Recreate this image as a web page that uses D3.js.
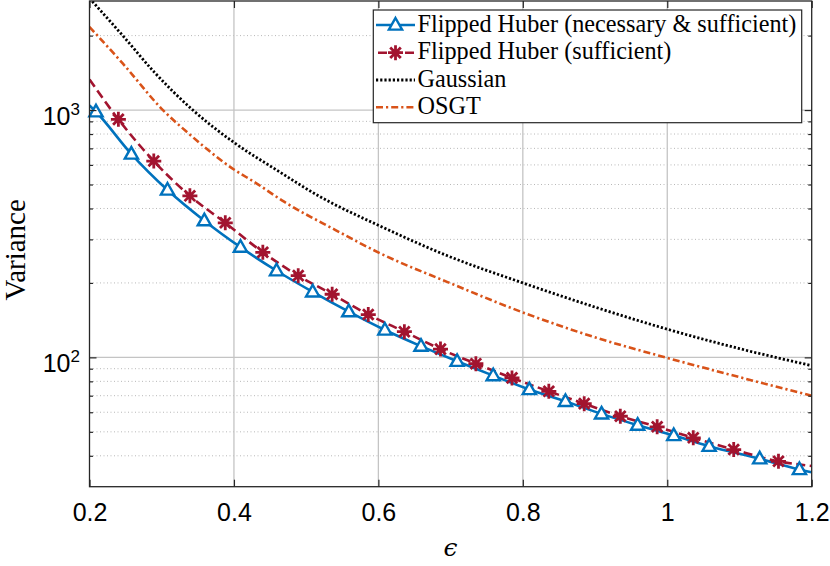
<!DOCTYPE html>
<html><head><meta charset="utf-8">
<script src="https://cdn.jsdelivr.net/npm/d3@7"></script>
<style>body{margin:0;background:#fff;} svg{display:block}</style>
</head><body>
<svg id="chart" width="830" height="566"></svg>
<script>
// ---------- data ----------
const xTicks = [0.2, 0.4, 0.6, 0.8, 1.0, 1.2];
const xTickLabels = ["0.2", "0.4", "0.6", "0.8", "1", "1.2"];
const yMajorTicks = [100, 1000];
const yMajorExp = ["2", "3"];
const yMinorTicks = [40, 50, 60, 70, 80, 90, 200, 300, 400, 500, 600, 700, 800, 900, 2000];
const seriesNames = ["Flipped Huber (necessary & sufficient)", "Flipped Huber (sufficient)", "Gaussian", "OSGT"];

// Flipped Huber (necessary & sufficient): line points (first/last are line ends, the rest carry markers)
const blueEps = [0.2, 0.209, 0.258, 0.308, 0.359, 0.409, 0.459, 0.509, 0.559, 0.609, 0.659, 0.709, 0.759, 0.809, 0.859, 0.909, 0.959, 1.009, 1.058, 1.128, 1.183, 1.2];
const blueVar = [1045, 984, 664, 475, 357, 279, 224, 184, 153, 129, 111, 96.4, 84.4, 74.1, 66.4, 59.1, 53.2, 48.3, 43.7, 38.9, 35.2, 34.3];
// Flipped Huber (sufficient)
const redEps = [0.2, 0.24, 0.289, 0.339, 0.388, 0.440, 0.489, 0.536, 0.586, 0.636, 0.686, 0.735, 0.785, 0.836, 0.885, 0.935, 0.986, 1.036, 1.092, 1.154, 1.2];
const redVar = [1330, 917, 622, 450, 350, 266, 214, 180, 149, 127, 108, 94.3, 82.6, 72.9, 65.0, 57.8, 52.4, 47.3, 42.4, 38.0, 36.4];
// Gaussian
const gaussEps = [0.2, 0.246, 0.29, 0.343, 0.401, 0.46, 0.517, 0.603, 0.695, 0.80, 0.902, 1.0, 1.1, 1.2];
const gaussVar = [2830, 2000, 1420, 1000, 736, 570, 450, 339, 258, 200, 159, 130, 108.5, 92.6];
// OSGT
const osgtEps = [0.2, 0.246, 0.3017, 0.3364, 0.40, 0.43, 0.47, 0.54, 0.603, 0.695, 0.80, 0.902, 1.0, 1.1, 1.2];
const osgtVar = [2169, 1543, 1000, 808, 575, 508, 425, 328, 263, 202, 152, 120, 99.5, 83.2, 70];

// ---------- layout ----------
const L = 89.5, R = 811.7, T = 1, B = 486.7;
const axisColor = "#262626";
const svg = d3.select("#chart");
const x = d3.scaleLinear().domain([0.2, 1.2]).range([L, R]);
const y = d3.scaleLog().domain([30, 2760]).range([B, T]);

svg.append("defs").append("clipPath").attr("id", "clip")
  .append("rect").attr("x", L).attr("y", T).attr("width", R - L).attr("height", B - T);

// ---------- grid ----------
const grid = svg.append("g");
grid.selectAll(".gminor").data(yMinorTicks).join("line")
  .attr("x1", L).attr("x2", R).attr("y1", d => y(d)).attr("y2", d => y(d))
  .attr("stroke", "#b8b8b8").attr("stroke-width", 1).attr("stroke-dasharray", "1,2.5");
grid.selectAll(".gmajy").data(yMajorTicks).join("line")
  .attr("x1", L).attr("x2", R).attr("y1", d => y(d)).attr("y2", d => y(d))
  .attr("stroke", "#c4c4c4").attr("stroke-width", 1.3);
grid.selectAll(".gmajx").data(xTicks.slice(1, -1)).join("line")
  .attr("y1", T).attr("y2", B).attr("x1", d => x(d)).attr("x2", d => x(d))
  .attr("stroke", "#c4c4c4").attr("stroke-width", 1.3);

// ---------- series ----------
const plot = svg.append("g").attr("clip-path", "url(#clip)");
const lineGen = (xs, ys) => d3.line().curve(d3.curveMonotoneX)
  .x(i => x(xs[i])).y(i => y(ys[i]))(d3.range(xs.length));

plot.append("path").attr("d", lineGen(blueEps, blueVar))
  .attr("fill", "none").attr("stroke", "#0072BD").attr("stroke-width", 2.6);
plot.append("path").attr("d", lineGen(redEps, redVar))
  .attr("fill", "none").attr("stroke", "#A2142F").attr("stroke-width", 2.6).attr("stroke-dasharray", "9,4.5");
plot.append("path").attr("d", lineGen(gaussEps, gaussVar))
  .attr("fill", "none").attr("stroke", "#000").attr("stroke-width", 2.8).attr("stroke-dasharray", "2.2,2");
plot.append("path").attr("d", lineGen(osgtEps, osgtVar))
  .attr("fill", "none").attr("stroke", "#D95319").attr("stroke-width", 2.6).attr("stroke-dasharray", "7,3,2.2,3");

const triPath = "M0,-7L6.6,4.6L-6.6,4.6Z";
const starPath = "M-7.5,0H7.5M0,-7.5V7.5M-5.3,-5.3L5.3,5.3M-5.3,5.3L5.3,-5.3";
const blueIdx = d3.range(1, blueEps.length - 1);
const redIdx = d3.range(1, redEps.length - 1);
svg.append("g").selectAll("path").data(blueIdx).join("path")
  .attr("transform", i => `translate(${x(blueEps[i])},${y(blueVar[i])})`)
  .attr("d", triPath).attr("fill", "#fff").attr("stroke", "#0072BD").attr("stroke-width", 2.4);
svg.append("g").selectAll("path").data(redIdx).join("path")
  .attr("transform", i => `translate(${x(redEps[i])},${y(redVar[i])})`)
  .attr("d", starPath).attr("fill", "none").attr("stroke", "#A2142F").attr("stroke-width", 2.8);

// ---------- axes ----------
function styleAxis(g) {
  g.select(".domain").remove();
  g.selectAll(".tick line").attr("stroke", axisColor).attr("stroke-width", 1.2);
}
svg.append("g").attr("transform", `translate(0,${B})`)
  .call(d3.axisBottom(x).tickValues(xTicks).tickSizeInner(-7).tickSizeOuter(0).tickPadding(17)
    .tickFormat((d, i) => xTickLabels[i]))
  .call(styleAxis)
  .call(g => g.selectAll("text").attr("font-family", "Liberation Sans, Arial, sans-serif")
    .attr("font-size", 25).attr("fill", "#000"));
svg.append("g").attr("transform", `translate(0,${T})`)
  .call(d3.axisTop(x).tickValues(xTicks).tickSizeInner(-7).tickSizeOuter(0).tickFormat(""))
  .call(styleAxis);
svg.append("g").attr("transform", `translate(${L},0)`)
  .call(d3.axisLeft(y).tickValues(yMajorTicks).tickSizeInner(-7).tickSizeOuter(0).tickFormat(""))
  .call(styleAxis);
svg.append("g").attr("transform", `translate(${L},0)`)
  .call(d3.axisLeft(y).tickValues(yMinorTicks).tickSizeInner(-3.5).tickSizeOuter(0).tickFormat(""))
  .call(styleAxis);
svg.append("g").attr("transform", `translate(${R},0)`)
  .call(d3.axisRight(y).tickValues(yMajorTicks).tickSizeInner(-7).tickSizeOuter(0).tickFormat(""))
  .call(styleAxis);
svg.append("g").attr("transform", `translate(${R},0)`)
  .call(d3.axisRight(y).tickValues(yMinorTicks).tickSizeInner(-3.5).tickSizeOuter(0).tickFormat(""))
  .call(styleAxis);

// y tick labels 10^n
const ylab = svg.append("g").attr("font-family", "Liberation Sans, Arial, sans-serif").attr("fill", "#000");
yMajorTicks.forEach((v, i) => {
  const t = ylab.append("text").attr("x", 80).attr("y", y(v) + 15).attr("text-anchor", "end").attr("font-size", 25);
  t.append("tspan").text("10");
  t.append("tspan").attr("dy", -10).attr("font-size", 17).text(yMajorExp[i]);
});

// frame
svg.append("rect").attr("x", L).attr("y", T).attr("width", R - L).attr("height", B - T)
  .attr("fill", "none").attr("stroke", axisColor).attr("stroke-width", 1.3);

// axis titles
svg.append("text").attr("transform", `translate(25,${(T + B) / 2 + 6}) rotate(-90)`)
  .attr("text-anchor", "middle").attr("font-family", "Liberation Serif, serif").attr("font-size", 29)
  .attr("fill", "#000").text("Variance");
svg.append("text").attr("x", (L + R) / 2).attr("y", 556).attr("text-anchor", "middle")
  .attr("font-family", "DejaVu Serif, serif").attr("font-style", "italic").attr("font-size", 25)
  .attr("fill", "#000").text("ϵ");

// ---------- legend ----------
const lg = svg.append("g");
lg.append("rect").attr("x", 373.3).attr("y", 10).attr("width", 428.4).attr("height", 112.7)
  .attr("fill", "#fff").attr("stroke", axisColor).attr("stroke-width", 1.2);
const rowY = [25, 52.7, 80, 107.3];
const sx1 = 376, sx2 = 415, smid = 395.5;
lg.append("line").attr("x1", sx1).attr("x2", sx2).attr("y1", rowY[0]).attr("y2", rowY[0])
  .attr("stroke", "#0072BD").attr("stroke-width", 2.6);
lg.append("path").attr("transform", `translate(${smid},${rowY[0]})`).attr("d", triPath)
  .attr("fill", "#fff").attr("stroke", "#0072BD").attr("stroke-width", 2.4);
lg.append("line").attr("x1", sx1).attr("x2", sx2).attr("y1", rowY[1]).attr("y2", rowY[1])
  .attr("stroke", "#A2142F").attr("stroke-width", 2.6).attr("stroke-dasharray", "9,4.5").attr("stroke-dashoffset", -2);
lg.append("path").attr("transform", `translate(${smid},${rowY[1]})`).attr("d", starPath)
  .attr("fill", "none").attr("stroke", "#A2142F").attr("stroke-width", 2.8);
lg.append("line").attr("x1", sx1).attr("x2", sx2).attr("y1", rowY[2]).attr("y2", rowY[2])
  .attr("stroke", "#000").attr("stroke-width", 2.8).attr("stroke-dasharray", "2.2,2");
lg.append("line").attr("x1", sx1).attr("x2", sx2).attr("y1", rowY[3]).attr("y2", rowY[3])
  .attr("stroke", "#D95319").attr("stroke-width", 2.6).attr("stroke-dasharray", "7,3,2.2,3");

const texts = lg.selectAll(".lt").data(seriesNames).join("text")
  .attr("x", 417.5).attr("y", (d, i) => rowY[i] + 6.5)
  .attr("font-family", "Liberation Serif, serif").attr("font-size", 21).attr("fill", "#000")
  .text(d => d);
// scale font so first entry spans like the reference
const w0 = texts.node().getComputedTextLength();
if (w0 > 0) texts.attr("font-size", 21 * 379 / w0);
</script>
</body></html>
